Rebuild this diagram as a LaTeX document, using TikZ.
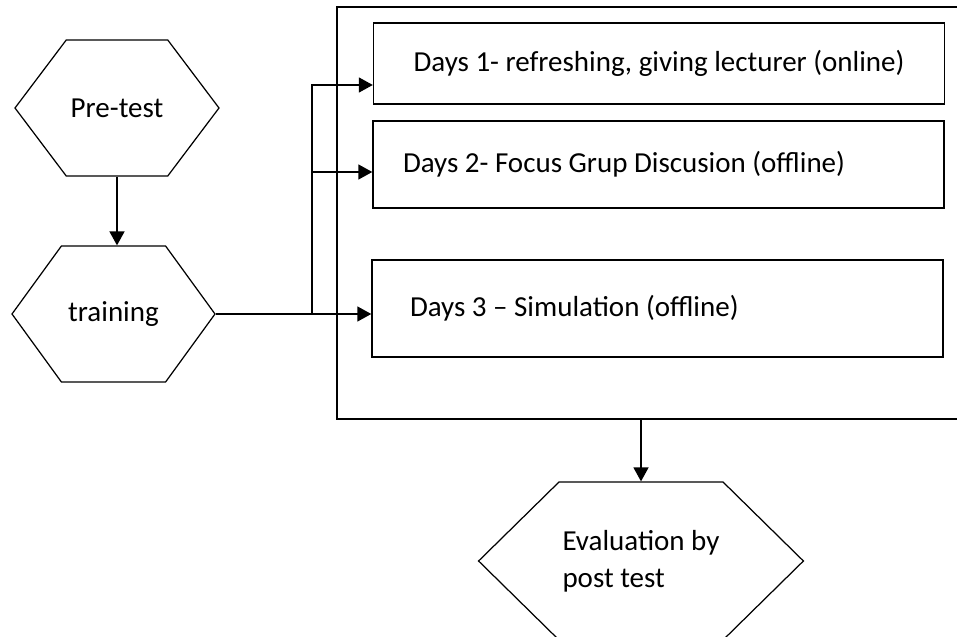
\documentclass[tikz,border=0pt]{standalone}
\usepackage{fontspec}
\setmainfont{Carlito}
\usetikzlibrary{arrows.meta, shapes.symbols}

\begin{document}
\begin{tikzpicture}[
    every node/.style={font=\fontsize{16.5}{21}\selectfont},
    hexa/.style={draw, line width=0.7pt, signal, signal to=west and east, align=flush left, inner sep=2pt},
    daybox/.style={draw, line width=0.8pt, minimum width=11.42cm, inner sep=4pt},
    frame/.style={draw, line width=0.8pt, minimum width=12.46cm, minimum height=8.24cm},
    arr/.style={line width=0.9pt, -{Triangle[length=0.28cm, width=0.3cm]}},
  ]
  \useasboundingbox (0,0) rectangle (19.14,-12.74);

  \node[hexa, minimum width=4.08cm, minimum height=2.72cm, signal pointer angle=106] (pre) at (2.34,-2.16) {Pre-test};
  \node[hexa, minimum width=4.06cm, minimum height=2.72cm, signal pointer angle=108] (train) at (2.27,-6.28) {training};
  \node[frame] (frame) at (12.97,-4.26) {};
  \node[daybox, minimum height=1.62cm] (day1) at (13.18,-1.27) {Days 1- refreshing, giving lecturer (online)};
  \node[daybox, minimum height=1.74cm, text width=10.22cm, inner xsep=0.6cm, align=flush left] (day2) at (13.17,-3.29) {Days 2- Focus Grup Discusion (offline)};
  \node[daybox, minimum height=1.94cm, text width=9.9cm, inner xsep=0.76cm, align=flush left] (day3) at (13.15,-6.17) {Days 3 – Simulation (offline)};
  \node[hexa, minimum width=6.4cm, minimum height=3.16cm, signal pointer angle=89] (eval) at (12.82,-11.22) {Evaluation by\\post test};

  \coordinate (fork) at (6.24,-6.28);
  \coordinate (in1) at ([yshift=-0.43cm]day1.west);
  \coordinate (in2) at ([yshift=-0.15cm]day2.west);

  \draw[arr] (pre.south) -- (pre.south |- train.north);
  \draw[arr] (train.east) -- (train.east -| day3.west);
  \draw[arr] (fork) |- (in1);
  \draw[arr] (fork |- in2) -- (in2);
  \draw[arr] (eval.north |- frame.south) -- (eval.north);
\end{tikzpicture}
\end{document}
